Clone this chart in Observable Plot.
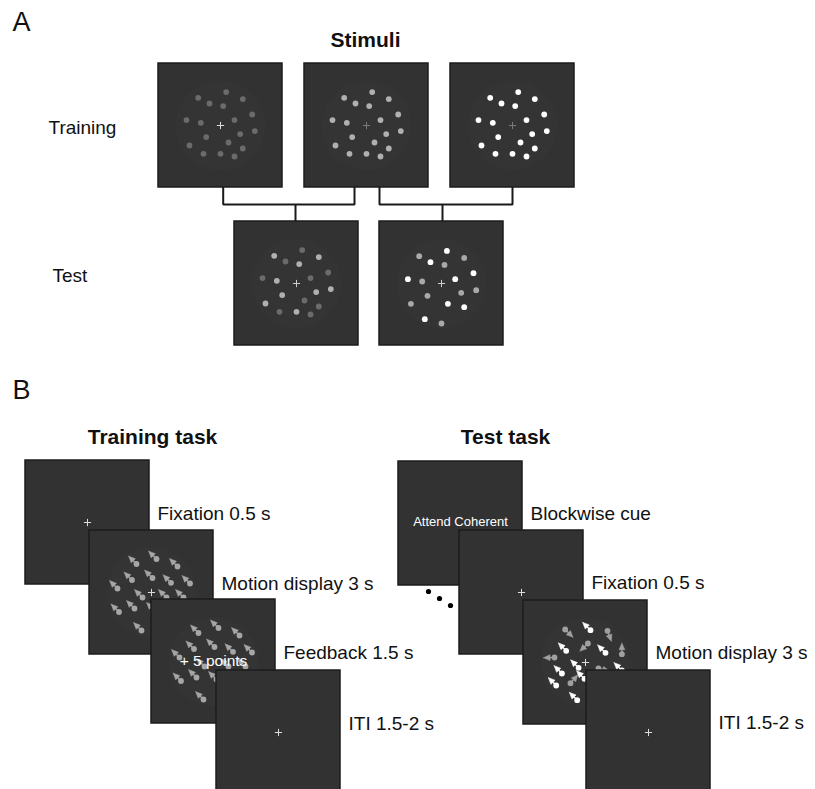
<!DOCTYPE html>
<html><head><meta charset="utf-8">
<script src="https://cdn.jsdelivr.net/npm/d3@7"></script>
<script src="https://cdn.jsdelivr.net/npm/@observablehq/plot@0.6"></script>
<style>body{margin:0;background:#fff} svg{display:block}</style>
</head><body><div id="chart"></div><script>
// ---------- content ----------
const panelLetters = ["A", "B"];
const titleA = "Stimuli";
const rowLabelsA = ["Training", "Test"];
const taskTitles = ["Training task", "Test task"];
const trainingSteps = ["Fixation 0.5 s", "Motion display 3 s", "Feedback 1.5 s", "ITI 1.5-2 s"];
const testSteps = ["Blockwise cue", "Fixation 0.5 s", "Motion display 3 s", "ITI 1.5-2 s"];
const cueText = "Attend Coherent";
const feedbackText = "+ 5 points";

// dot pattern (offsets from aperture centre) shared by the training stimuli
const stimulusDots = [[5.7,-33.4],[-22.3,-27.7],[22.3,-26.4],[-11,-22],[2.7,-19.4],[31.7,-11],[-34,-5.4],[-19.7,-2.7],[14,-5.4],[34.3,5.6],[19.7,8.6],[-14.3,11.6],[8,17],[-31,20],[22.3,23],[-17,28.3],[0,28.3],[14,31]];
const trainingLevels = ["low", "mid", "high"];
// mixed test stimulus: level of each stimulus dot
const testMixLevels = ["low","mid","mid","low","mid","low","low","mid","low","mid","mid","mid","low","mid","low","low","mid","low"];
// coherent test stimulus: [dx, dy, level]
const testCoherentDots = [[5.4,-32.6,"high"],[-22.3,-27.3,"mid"],[22.7,-25.6,"mid"],[-11,-21.3,"high"],[3,-18.6,"mid"],[32,-10.3,"high"],[-33.6,-4.3,"high"],[-19.3,-2,"mid"],[13.7,-4.3,"high"],[34.7,6.7,"mid"],[19.7,9.3,"mid"],[-14,12.3,"mid"],[6.4,20.3,"high"],[-30.6,20.3,"mid"],[22.7,23.7,"high"],[-16.7,35.7,"high"],[0,40,"mid"]];
// training motion display: all dots move up-left
const trainingMotionDots = [[-15,-28.5],[5,-33.5],[26,-26],[-19.5,-12.5],[1,-14.5],[19.5,-9.7],[38.5,-9],[-34,-4],[-9,5],[15,5],[32,5],[-17,16],[-32.5,19.5],[-10,38],[3,18],[22,22]];
// test motion display: [dx, dy, level, dirX, dirY]
const testMotionDots = [[-20.3,-33,"mid",0.7,0.7],[5,-32.3,"high",-0.707,-0.707],[22,-31.7,"mid",0.35,0.94],[-19.3,-11.7,"high",-0.707,-0.707],[2.4,-19,"mid",-0.72,0.69],[20,-9.7,"high",-0.707,-0.707],[36.4,-8.3,"mid",0,-1],[-31,-5,"mid",-1,0.03],[-6.9,5.3,"high",-0.707,-0.707],[13,6,"mid",0.98,0.2],[36.4,8,"high",-0.707,-0.707],[-23.6,11,"high",-0.707,-0.707],[-15,20.7,"mid",0.66,-0.75],[-29.3,23,"high",-0.707,-0.707],[-8.3,37.7,"high",-0.707,-0.707],[-1,16.3,"high",-0.707,-0.707]];
const ellipsis = [0, 1, 2];

// ---------- layout ----------
const W = 815, H = 789;
const FONT = "Liberation Sans, Arial, Helvetica, sans-serif";
const BOX = 124;
const stimTrainPos = [[158,63],[304,63],[450,63]];
const stimTestPos = [[234,221],[379,221]];
const taskTrainPos = [[25,460],[89,530],[151,599],[216,670]];
const taskTestPos = [[398,461],[459,530],[523,600],[586,670]];
const levelColor = {low:"#6b6b6b", mid:"#b0b0b0", high:"#ffffff"};
const BOXFILL = "#323232";

const marks = [];
const lin = (x1,y1,x2,y2) => ({x1,y1,x2,y2});

function box(x0, y0) {
  marks.push(Plot.rect([{x1:x0, x2:x0+BOX, y1:y0, y2:y0+BOX}],
    {x1:"x1", x2:"x2", y1:"y1", y2:"y2", fill:BOXFILL, stroke:"#1c1c1c", strokeWidth:1.5}));
}
function aperture(cx, cy) {
  marks.push(Plot.dot([[cx,cy]], {x:d=>d[0], y:d=>d[1], r:45, fill:"#343434", stroke:"none"}));
}
function cross(cx, cy, color) {
  marks.push(Plot.link([lin(cx-3.6,cy,cx+3.6,cy), lin(cx,cy-3.6,cx,cy+3.6)],
    {x1:"x1", y1:"y1", x2:"x2", y2:"y2", stroke:color, strokeWidth:1}));
}
function dots(cx, cy, data, colorOf) {
  marks.push(Plot.dot(data, {x:d=>cx+d[0], y:d=>cy+d[1], r:2.9, fill:colorOf, stroke:"none"}));
}
function movers(cx, cy, data) {
  const stems = data.map(d => ({...lin(cx+d.dx, cy+d.dy, cx+d.dx+d.ux*5.5, cy+d.dy+d.uy*5.5), color:d.color}));
  const tris = [];
  data.forEach((d, i) => {
    const hx = cx+d.dx, hy = cy+d.dy, px = -d.uy, py = d.ux;
    const tip = [hx+d.ux*11, hy+d.uy*11];
    const bx = hx+d.ux*4.5, by = hy+d.uy*4.5;
    tris.push({k:i, x:tip[0], y:tip[1], color:d.color});
    tris.push({k:i, x:bx+px*2.9, y:by+py*2.9, color:d.color});
    tris.push({k:i, x:bx-px*2.9, y:by-py*2.9, color:d.color});
    tris.push({k:i, x:tip[0], y:tip[1], color:d.color});
  });
  marks.push(Plot.link(stems, {x1:"x1", y1:"y1", x2:"x2", y2:"y2", stroke:d=>d.color, strokeWidth:1.4}));
  const groups = d3.groups(tris, d => d.k);
  for (const [, g] of groups) {
    marks.push(Plot.line(g, {x:"x", y:"y", fill:g[0].color, stroke:g[0].color, strokeWidth:0.6}));
  }
  marks.push(Plot.dot(data, {x:d=>cx+d.dx, y:d=>cy+d.dy, r:2.9, fill:d=>d.color, stroke:"none"}));
}
function label(x, y, text, opts = {}) {
  marks.push(Plot.text([text], {x:()=>x, y:()=>y, text:d=>d, textAnchor:"start", lineAnchor:"middle",
    fontSize:19, fill:"#111", fontFamily:FONT, ...opts}));
}

// ---------- panel A ----------
label(12, 22, panelLetters[0], {fontSize:27});
label(365, 40, titleA, {textAnchor:"middle", fontWeight:"bold", fontSize:21});
label(48, 127, rowLabelsA[0]);
label(52, 275, rowLabelsA[1]);

// connectors
const connectorPaths = [
  [[222.7,186],[222.7,204],[354,204],[354,186]],
  [[379,186],[379,204],[512,204],[512,186]],
  [[295,204],[295,221]],
  [[442,204],[442,221]]
];
marks.push(Plot.line(connectorPaths.flatMap((p,i)=>p.map(q=>({x:q[0], y:q[1], k:i}))),
  {x:"x", y:"y", z:"k", stroke:"#1a1a1a", strokeWidth:2, strokeLinejoin:"miter", strokeLinecap:"butt"}));

stimTrainPos.forEach(([x0,y0], i) => {
  const cx = x0+BOX/2, cy = y0+BOX/2;
  box(x0, y0); aperture(cx, cy);
  dots(cx, cy, stimulusDots, () => levelColor[trainingLevels[i]]);
  cross(cx, cy, i === 0 ? "#dddddd" : "#7a7a7a");
});
{
  const [x0,y0] = stimTestPos[0], cx = x0+BOX/2, cy = y0+BOX/2;
  box(x0, y0); aperture(cx, cy);
  dots(cx, cy, stimulusDots.map((d,i)=>[d[0],d[1],testMixLevels[i]]), d => levelColor[d[2]]);
  cross(cx, cy, "#cccccc");
}
{
  const [x0,y0] = stimTestPos[1], cx = x0+BOX/2, cy = y0+BOX/2;
  box(x0, y0); aperture(cx, cy);
  dots(cx, cy, testCoherentDots, d => d[2] === "mid" ? "#a9a9a9" : levelColor[d[2]]);
  cross(cx, cy, "#cccccc");
}

// ---------- panel B ----------
label(12, 390, panelLetters[1], {fontSize:27});
label(152, 437, taskTitles[0], {textAnchor:"middle", fontWeight:"bold", fontSize:21});
label(505, 437, taskTitles[1], {textAnchor:"middle", fontWeight:"bold", fontSize:21});

const trainMovers = trainingMotionDots.map(d => ({dx:d[0], dy:d[1], color:"#a6a6a6", ux:-0.707, uy:-0.707}));
const testMovers = testMotionDots.map(d => ({dx:d[0], dy:d[1], color:d[2]==="high" ? "#ffffff" : "#a0a0a0", ux:d[3], uy:d[4]}));

taskTrainPos.forEach(([x0,y0], i) => {
  const cx = x0+BOX/2, cy = y0+BOX/2;
  box(x0, y0);
  if (i === 1 || i === 2) { aperture(cx, cy); movers(cx, cy, trainMovers); }
  if (i !== 2) cross(cx, cy, "#dddddd");
  if (i === 2) label(cx, cy, feedbackText, {textAnchor:"middle", fill:"#ffffff", fontSize:15.5});
  label(x0+BOX+8, y0+53, trainingSteps[i]);
});

// ellipsis dots
marks.push(Plot.dot(ellipsis, {x:i=>428+i*11, y:i=>591+i*7, r:2.6, fill:"#000"}));

taskTestPos.forEach(([x0,y0], i) => {
  const cx = x0+BOX/2, cy = y0+BOX/2;
  box(x0, y0);
  if (i === 0) label(cx, cy-2, cueText, {textAnchor:"middle", fill:"#ffffff", fontSize:13});
  if (i === 2) { aperture(cx, cy); movers(cx, cy, testMovers); }
  if (i !== 0) cross(cx, cy, "#dddddd");
  label(x0+BOX+8, y0+52, testSteps[i]);
});

const chart = Plot.plot({
  width: W, height: H,
  margin: 0,
  x: {domain:[0, W], range:[0, W], axis:null},
  y: {domain:[0, H], range:[0, H], axis:null},
  style: {background:"#ffffff", fontFamily:FONT},
  marks
});
document.getElementById("chart").appendChild(chart);
</script></body></html>
